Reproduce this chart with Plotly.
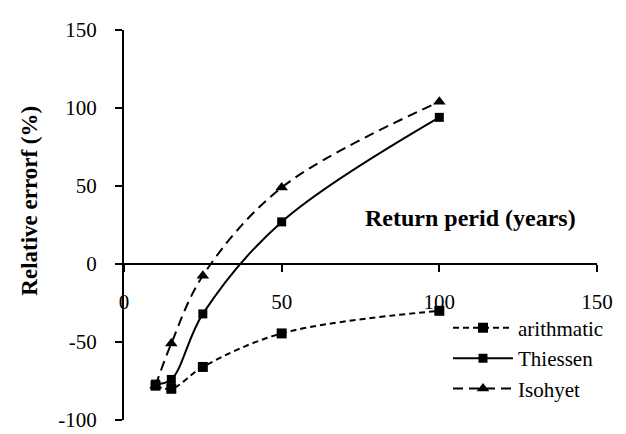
import plotly.graph_objects as go

return_period = [10, 15, 25, 50, 100]
arithmatic = [-78, -80, -66, -44.5, -30]
thiessen = [-77, -74, -32, 27, 94]
isohyet = [-78, -51, -7.5, 49, 104]

x_ticks = [0, 50, 100, 150]
y_ticks = [-100, -50, 0, 50, 100, 150]

FONT = "Liberation Serif"

fig = go.Figure()
fig.add_trace(go.Scatter(
    x=return_period, y=arithmatic, name="arithmatic", mode="lines+markers",
    line=dict(color="black", width=2, dash="6px,4px", shape="spline"),
    marker=dict(symbol="square", size=10, color="black")))
fig.add_trace(go.Scatter(
    x=return_period, y=thiessen, name="Thiessen", mode="lines+markers",
    line=dict(color="black", width=2, shape="spline"),
    marker=dict(symbol="square", size=9, color="black")))
fig.add_trace(go.Scatter(
    x=return_period, y=isohyet, name="Isohyet", mode="lines+markers",
    line=dict(color="black", width=2, dash="10px,6px", shape="spline"),
    marker=dict(symbol="triangle-up", size=11, color="black")))

fig.update_layout(
    width=626, height=434,
    margin=dict(l=116, r=37, t=10, b=19),
    paper_bgcolor="white", plot_bgcolor="white",
    font=dict(family=FONT, size=21, color="black"),
    showlegend=True,
    legend=dict(x=0.685, y=0.288, xanchor="left", yanchor="top",
                font=dict(family=FONT, size=21, color="black"),
                bgcolor="rgba(0,0,0,0)", itemwidth=60),
    xaxis=dict(range=[0, 150], tickvals=x_ticks, ticktext=[str(v) for v in x_ticks],
               showgrid=False, zeroline=False, showline=True, linecolor="black", linewidth=2,
               ticks="outside", ticklen=7, tickwidth=2, tickcolor="black",
               ticklabelstandoff=12, ticklabeloverflow="allow",
               anchor="free", position=0.4, tickfont=dict(family=FONT, size=21)),
    yaxis=dict(range=[-100, 150], tickvals=y_ticks, ticktext=[str(v) for v in y_ticks],
               showgrid=False, zeroline=False, showline=True, linecolor="black", linewidth=2,
               ticks="outside", ticklen=7, tickwidth=2, tickcolor="black",
               ticklabelstandoff=14, ticklabeloverflow="allow",
               tickfont=dict(family=FONT, size=21)),
)

fig.add_annotation(x=110, y=29.5, xref="x", yref="y", text="<b>Return perid (years)</b>",
                   showarrow=False, font=dict(family=FONT, size=24, color="black"))
fig.add_annotation(x=-0.199, y=0.562, xref="paper", yref="paper", text="<b>Relative errorf (%)</b>",
                   textangle=-90, showarrow=False, xanchor="center", yanchor="middle",
                   font=dict(family=FONT, size=23, color="black"))

fig.write_html("out.html")
